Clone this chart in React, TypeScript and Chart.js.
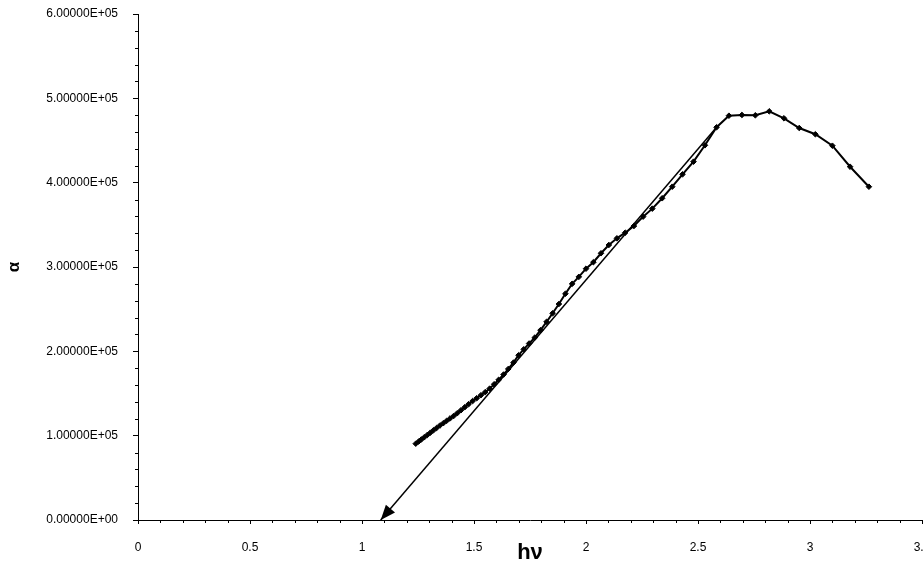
import React, { useEffect, useRef } from 'react';
import { Chart, registerables } from 'chart.js';

Chart.register(...registerables);

// photon energy hν (eV)
const hv = [
  1.240, 1.253, 1.265, 1.278, 1.292, 1.305, 1.319, 1.333, 1.348, 1.363,
  1.378, 1.393, 1.409, 1.425, 1.442, 1.459, 1.476, 1.494, 1.512, 1.531,
  1.550, 1.570, 1.590, 1.610, 1.632, 1.653, 1.676, 1.699, 1.722, 1.746,
  1.771, 1.797, 1.824, 1.851, 1.879, 1.908, 1.938, 1.968, 2.000, 2.033,
  2.067, 2.102, 2.138, 2.175, 2.214, 2.255, 2.296, 2.340, 2.385, 2.431,
  2.480, 2.531, 2.583, 2.638, 2.696, 2.756, 2.818, 2.884, 2.952, 3.024,
  3.100, 3.179, 3.263,
];

// absorption coefficient α
const alpha = [
  90500, 93100, 95500, 98100, 100900, 103500, 106400, 109100, 112100, 114800,
  117600, 120400, 123300, 126600, 130200, 133800, 137400, 141100, 144400, 148000,
  151600, 155800, 161000, 166200, 172500, 179100, 186600, 195400, 202400, 209300,
  216200, 225100, 235000, 245100, 256100, 268300, 280000, 288300, 298000, 305700,
  316300, 326100, 334000, 340700, 348600, 359700, 369200, 381500, 395200, 409900,
  424900, 444300, 465700, 479400, 480300, 479900, 484600, 476300, 464800, 457400,
  443800, 418900, 395200,
];

// linear extrapolation (tangent) line
const fitHv = [1.0835, 2.583];
const fitAlpha = [0, 465700];

const xMajorTicks = [0, 0.5, 1, 1.5, 2, 2.5, 3, 3.5];
const yMajorTicks = [0, 100000, 200000, 300000, 400000, 500000, 600000];
const xMinorStep = 0.1;
const yMinorStep = 20000;

const FONT = '"Liberation Sans", Arial, Helvetica, sans-serif';

const minorTicksPlugin = {
  id: 'minorTicks',
  afterDraw(chart: any) {
    const { ctx } = chart;
    const xs = chart.scales.x;
    const ys = chart.scales.y;
    ctx.save();
    ctx.strokeStyle = '#000';
    ctx.lineWidth = 1;
    const nx = Math.round((xs.max - xs.min) / xMinorStep);
    for (let i = 0; i <= nx; i++) {
      if (i % 5 === 0) continue;
      const px = Math.round(xs.getPixelForValue(xs.min + i * xMinorStep)) + 0.5;
      ctx.beginPath();
      ctx.moveTo(px, ys.bottom);
      ctx.lineTo(px, ys.bottom + 3);
      ctx.stroke();
    }
    const ny = Math.round((ys.max - ys.min) / yMinorStep);
    for (let i = 0; i <= ny; i++) {
      if (i % 5 === 0) continue;
      const py = Math.round(ys.getPixelForValue(ys.min + i * yMinorStep)) + 0.5;
      ctx.beginPath();
      ctx.moveTo(xs.left, py);
      ctx.lineTo(xs.left - 3, py);
      ctx.stroke();
    }
    ctx.restore();
  },
};

const arrowPlugin = {
  id: 'arrowHead',
  afterDatasetsDraw(chart: any) {
    const meta = chart.getDatasetMeta(1);
    if (!meta || !meta.data || meta.data.length < 2) return;
    const p0 = meta.data[0];
    const p1 = meta.data[1];
    const ang = Math.atan2(p1.y - p0.y, p1.x - p0.x);
    const L = 15;
    const W = 6;
    const c = Math.cos(ang);
    const s = Math.sin(ang);
    const { ctx } = chart;
    ctx.save();
    ctx.fillStyle = '#000';
    ctx.beginPath();
    ctx.moveTo(p0.x, p0.y);
    ctx.lineTo(p0.x + L * c - W * s, p0.y + L * s + W * c);
    ctx.lineTo(p0.x + L * c + W * s, p0.y + L * s - W * c);
    ctx.closePath();
    ctx.fill();
    ctx.restore();
  },
};

function fmtY(v: number): string {
  if (v === 0) return '0.00000E+00';
  return (v / 100000).toFixed(5) + 'E+05';
}

export default function App() {
  const ref = useRef<HTMLCanvasElement | null>(null);

  useEffect(() => {
    if (!ref.current) return;
    const chart = new Chart(ref.current, {
      type: 'scatter',
      data: {
        datasets: [
          {
            label: 'α',
            data: hv.map((x, i) => ({ x, y: alpha[i] })),
            showLine: true,
            borderColor: '#000',
            backgroundColor: '#000',
            borderWidth: 2,
            pointStyle: 'rectRot',
            pointRadius: 2.8,
            pointBorderWidth: 1,
            pointBackgroundColor: '#000',
            pointBorderColor: '#000',
          },
          {
            label: 'fit',
            data: fitHv.map((x, i) => ({ x, y: fitAlpha[i] })),
            showLine: true,
            borderColor: '#000',
            borderWidth: 1.5,
            pointRadius: 0,
          },
        ],
      },
      options: {
        responsive: false,
        animation: false,
        layout: { padding: { left: 0, top: 14, right: 18, bottom: 0 } },
        plugins: {
          legend: { display: false },
          tooltip: { enabled: false },
        },
        scales: {
          x: {
            type: 'linear',
            min: 0,
            max: 3.5,
            afterBuildTicks: (scale: any) => {
              scale.ticks = xMajorTicks.map((v) => ({ value: v }));
            },
            afterFit: (scale: any) => {
              scale.height = 44;
              scale.paddingLeft = 0;
              scale.paddingRight = 0;
              scale.paddingTop = 0;
              scale.paddingBottom = 0;
            },
            grid: {
              drawOnChartArea: false,
              drawTicks: true,
              tickLength: 4,
              color: '#000',
            },
            border: { display: true, color: '#000', width: 1 },
            ticks: {
              padding: 16,
              color: '#000',
              font: { family: FONT, size: 12 },
              maxRotation: 0,
              autoSkip: false,
              callback: (v: any) => String(v),
            },
            title: {
              display: true,
              text: 'hν',
              color: '#000',
              font: { family: FONT, size: 22, weight: 'bold', lineHeight: 1 },
              padding: { top: 0, bottom: 0 },
            },
          },
          y: {
            type: 'linear',
            min: 0,
            max: 600000,
            afterBuildTicks: (scale: any) => {
              scale.ticks = yMajorTicks.map((v) => ({ value: v }));
            },
            afterFit: (scale: any) => {
              scale.width = 138;
              scale.paddingLeft = 0;
              scale.paddingRight = 0;
              scale.paddingTop = 0;
              scale.paddingBottom = 0;
            },
            grid: {
              drawOnChartArea: false,
              drawTicks: true,
              tickLength: 5,
              color: '#000',
            },
            border: { display: true, color: '#000', width: 1 },
            ticks: {
              padding: 15,
              color: '#000',
              font: { family: FONT, size: 12 },
              autoSkip: false,
              callback: (v: any) => fmtY(Number(v)),
            },
            title: {
              display: true,
              text: 'α',
              color: '#000',
              font: { family: FONT, size: 17, weight: 'bold', lineHeight: 1.2 },
              padding: { top: 3.8, bottom: 0 },
            },
          },
        },
      },
      plugins: [minorTicksPlugin, arrowPlugin],
    } as any);
    return () => chart.destroy();
  }, []);

  return (
    <div
      style={{
        position: 'fixed',
        left: 0,
        top: 0,
        width: 924,
        height: 564,
        overflow: 'hidden',
        background: '#fff',
      }}
    >
      <canvas ref={ref} width={940} height={564} style={{ display: 'block' }} />
    </div>
  );
}
